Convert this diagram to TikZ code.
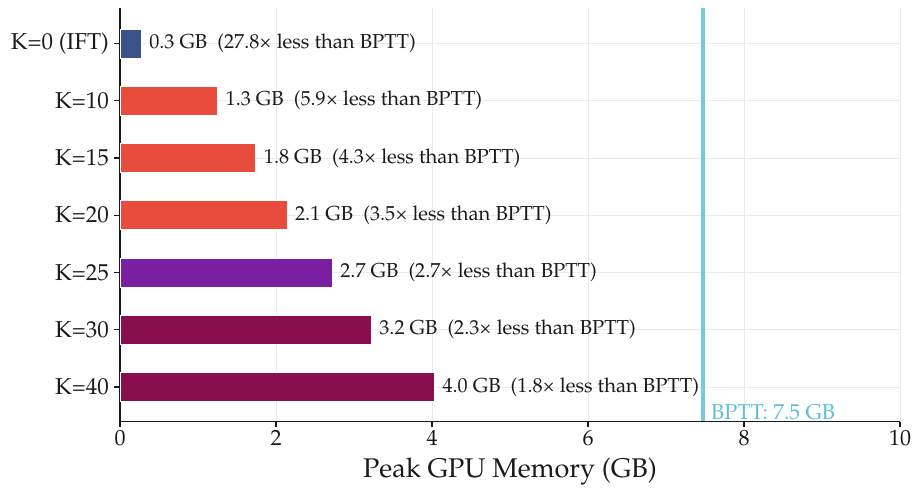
\documentclass[tikz,border=0pt]{standalone}
\usepackage[T1]{fontenc}
\usepackage{textcomp}
\usepackage{mathpazo}
\definecolor{cIFT}{RGB}{59,82,139}
\definecolor{cRed}{RGB}{231,76,60}
\definecolor{cPurple}{RGB}{123,31,162}
\definecolor{cMaroon}{RGB}{136,14,79}
\definecolor{cBPTT}{RGB}{118,202,224}
\definecolor{cBPTTtext}{RGB}{95,190,220}
\definecolor{cGrid}{RGB}{235,235,235}
\definecolor{cText}{RGB}{26,26,26}
\tikzset{
  gridline/.style={draw=cGrid, line width=0.9pt},
  axisline/.style={draw=cText, line width=1.4pt},
  tickline/.style={draw=cText, line width=1.2pt},
  barbox/.style={draw=white, line width=0.8pt},
  annot/.style={anchor=west, inner sep=0pt, text=cText, font=\fontsize{20.2}{24}\selectfont},
  ylab/.style={anchor=east, inner sep=0pt, text=cText, font=\fontsize{23}{27}\selectfont},
  xlab/.style={anchor=north, inner sep=0pt, text=cText, font=\fontsize{22}{26}\selectfont},
}
\newcommand{\membar}[6]{%
  % #1 name, #2 center y, #3 value (GB), #4 colour, #5 annotation, #6 y label
  \path[barbox, fill=#4] (120,{#2-14.5}) rectangle ({120+78*#3},{#2+14.5});
  \coordinate (#1end) at ({120+78*#3},#2);
  \node[annot] (#1ann) at ([xshift=8pt]#1end) {#5};
  \draw[tickline] (114,#2) -- (118.5,#2);
  \node[ylab] (#1lab) at (109,#2) {#6};
}
\begin{document}
\begin{tikzpicture}[x=1pt,y=-1pt]
\useasboundingbox (0,0) rectangle (912,489);
% grid
\foreach \v in {2,4,6,8,10} \draw[gridline] ({120+78*\v},8) -- ({120+78*\v},421);
\foreach \c in {43.5,100.75,158,215.25,272.5,329.75,387} \draw[gridline] (120,\c) -- (900,\c);
% axes
\draw[axisline] (120,8) -- (120,421.5) -- (900,421.5);
\foreach \v in {0,2,4,6,8,10} {
  \draw[tickline] ({120+78*\v},421.5) -- ({120+78*\v},427);
  \node[xlab] (xt\v) at ({120+78*\v},430) {\v};
}
% bars
\membar{k0}{43.5}{0.27}{cIFT}{0.3 GB\ \ (27.8\texttimes\ less than BPTT)}{K=0 (IFT)}
\membar{k10}{100.75}{1.25}{cRed}{1.3 GB\ \ (5.9\texttimes\ less than BPTT)}{K=10}
\membar{k15}{158}{1.74}{cRed}{1.8 GB\ \ (4.3\texttimes\ less than BPTT)}{K=15}
\membar{k20}{215.25}{2.14}{cRed}{2.1 GB\ \ (3.5\texttimes\ less than BPTT)}{K=20}
\membar{k25}{272.5}{2.72}{cPurple}{2.7 GB\ \ (2.7\texttimes\ less than BPTT)}{K=25}
\membar{k30}{329.75}{3.22}{cMaroon}{3.2 GB\ \ (2.3\texttimes\ less than BPTT)}{K=30}
\membar{k40}{387}{4.03}{cMaroon}{4.0 GB\ \ (1.8\texttimes\ less than BPTT)}{K=40}
% BPTT line
\coordinate (bpttTop) at ({120+78*7.47},8);
\coordinate (bpttBot) at ({120+78*7.47},421);
\draw[draw=cBPTT, line width=4pt] (bpttTop) -- (bpttBot);
\node[anchor=base west, inner sep=0pt, text=cBPTTtext, font=\fontsize{21.5}{25}\selectfont] (bpttlab) at (711,419) {BPTT: 7.5 GB};
% axis title
\node[anchor=center, inner sep=0pt, text=cText, font=\fontsize{27}{32}\selectfont] (xtitle) at (510,472) {Peak GPU Memory (GB)};
\end{tikzpicture}
\end{document}
